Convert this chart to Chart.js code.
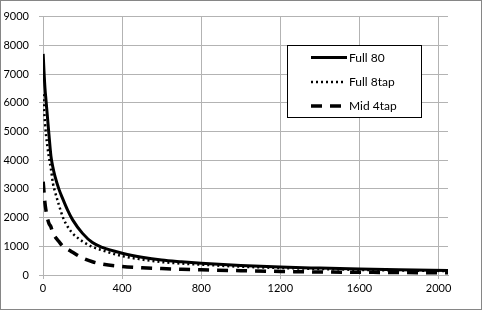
<!DOCTYPE html>
<html>
<head>
<meta charset="utf-8">
<script src="https://cdn.jsdelivr.net/npm/chart.js@4/dist/chart.umd.min.js"></script>
<style>
  html, body { margin: 0; padding: 0; background: #fff; }
  #wrap { position: absolute; left: 0; top: 0; width: 484px; height: 312px; }
</style>
</head>
<body>
<div id="wrap"><canvas id="c" width="484" height="312"></canvas></div>
<script>
// ---- data ----
const xValues   = [1, 5, 10, 15, 20, 30, 40, 50, 60, 80, 100, 125, 150, 200, 250, 300, 400, 500, 600, 700, 800, 1000, 1200, 1400, 1600, 1800, 2048];
const full80    = [7700, 7100, 6500, 6100, 5700, 4900, 4150, 3750, 3450, 3000, 2650, 2250, 1920, 1450, 1130, 960, 760, 620, 520, 460, 410, 330, 275, 240, 210, 185, 160];
const full8tap  = [6300, 5800, 5300, 4900, 4600, 4100, 3700, 3200, 2920, 2450, 2020, 1680, 1450, 1170, 980, 860, 660, 540, 450, 400, 360, 290, 245, 210, 180, 160, 140];
const mid4tap   = [3250, 2900, 2500, 2250, 2050, 1800, 1680, 1450, 1340, 1170, 1000, 900, 790, 590, 460, 380, 300, 255, 225, 200, 180, 150, 125, 105, 95, 85, 75];
const seriesNames = ["Full 80", "Full 8tap", "Mid 4tap"];
const xTicks = [0, 400, 800, 1200, 1600, 2000];
const yTicks = [0, 1000, 2000, 3000, 4000, 5000, 6000, 7000, 8000, 9000];
const xMax = 2048, yMax = 9000;

const FONT = "Lato, 'Liberation Sans', sans-serif";
const toPts = arr => arr.map((v, i) => ({ x: xValues[i], y: v }));

const legendPlugin = {
  id: 'boxLegend',
  afterDraw(chart) {
    const ctx = chart.ctx;
    ctx.save();
    ctx.fillStyle = '#fff';
    ctx.fillRect(287.5, 45.5, 134, 72);
    ctx.strokeStyle = '#000';
    ctx.lineWidth = 1;
    ctx.setLineDash([]);
    ctx.strokeRect(287.5, 45.5, 134, 72);
    const ys = [57.5, 82, 106];
    chart.data.datasets.forEach((ds, i) => {
      ctx.beginPath();
      ctx.strokeStyle = ds.borderColor;
      ctx.lineWidth = ds.borderWidth;
      ctx.setLineDash(ds.borderDash || []);
      ctx.lineCap = 'butt';
      ctx.moveTo(311, ys[i]);
      ctx.lineTo(i === 0 ? 347 : 345, ys[i]);
      ctx.stroke();
      ctx.setLineDash([]);
      ctx.fillStyle = '#000';
      ctx.font = "12px " + FONT;
      ctx.textAlign = 'left';
      ctx.textBaseline = 'middle';
      ctx.fillText(ds.label, 349, ys[i] + 0.5);
    });
    ctx.restore();
  }
};

const borderPlugin = {
  id: 'outerBorder',
  afterDraw(chart) {
    const ctx = chart.ctx;
    ctx.save();
    ctx.strokeStyle = '#868686';
    ctx.lineWidth = 1;
    ctx.strokeRect(0.5, 0.5, 481, 309);
    ctx.restore();
  }
};

new Chart(document.getElementById('c'), {
  type: 'line',
  data: {
    datasets: [
      { label: seriesNames[0], data: toPts(full80), borderColor: '#000', borderWidth: 3, borderDash: [], pointRadius: 0, fill: false, cubicInterpolationMode: 'monotone' },
      { label: seriesNames[1], data: toPts(full8tap), borderColor: '#000', borderWidth: 2.5, borderDash: [2, 3], pointRadius: 0, fill: false, cubicInterpolationMode: 'monotone' },
      { label: seriesNames[2], data: toPts(mid4tap), borderColor: '#000', borderWidth: 3.5, borderDash: [11, 8], pointRadius: 0, fill: false, cubicInterpolationMode: 'monotone' }
    ]
  },
  options: {
    responsive: false,
    animation: false,
    devicePixelRatio: 1,
    layout: { padding: { left: 0, top: 8, right: 36, bottom: 0 } },
    plugins: { legend: { display: false }, tooltip: { enabled: false } },
    scales: {
      x: {
        type: 'linear', min: 0, max: xMax,
        afterFit(s) { s.height = 37; },
        afterBuildTicks(s) { s.ticks = xTicks.map(v => ({ value: v })); },
        ticks: { color: '#000', font: { family: FONT, size: 11 }, padding: 3, maxRotation: 0, autoSkip: false, callback: v => String(v) },
        grid: { color: '#b3b3b3', lineWidth: 1, tickLength: 4, drawTicks: true },
        border: { display: true, color: '#b3b3b3' }
      },
      y: {
        min: 0, max: yMax,
        afterFit(s) { s.width = 43; },
        afterBuildTicks(s) { s.ticks = yTicks.map(v => ({ value: v })); },
        ticks: { color: '#000', font: { family: FONT, size: 11 }, padding: 10, autoSkip: false, callback: v => String(v) },
        grid: { color: '#b3b3b3', lineWidth: 1, tickLength: 4, drawTicks: true },
        border: { display: true, color: '#b3b3b3' }
      }
    }
  },
  plugins: [legendPlugin, borderPlugin]
});
</script>
</body>
</html>
